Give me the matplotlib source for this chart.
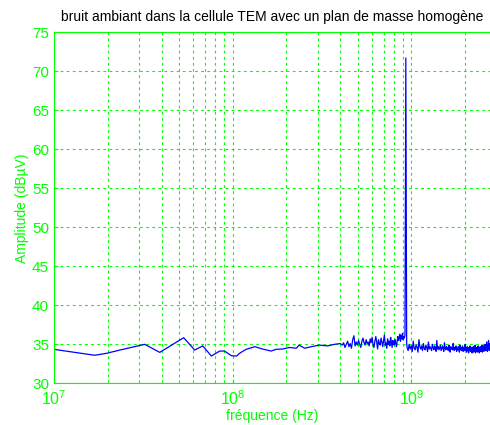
import numpy as np
import matplotlib.pyplot as plt
from matplotlib.ticker import LogLocator, NullFormatter

plt.rcParams['font.family'] = ['Liberation Sans', 'DejaVu Sans']

# smooth low-frequency part of the sweep
freqLow = [1.0e7, 1.69e7, 1.97e7, 2.34e7, 3.22e7, 3.91e7, 5.32e7, 6.13e7, 6.8e7, 7.6e7,
           8.46e7, 9.0e7, 9.84e7, 1.05e8, 1.1e8, 1.19e8, 1.33e8, 1.47e8, 1.64e8, 1.75e8,
           1.9e8, 2.08e8, 2.27e8, 2.35e8, 2.53e8, 2.75e8, 3.06e8, 3.4e8, 3.7e8, 4.0e8]
ampLow = [34.36, 33.6, 33.85, 34.27, 35.0, 33.97, 35.85, 34.27, 34.8, 33.5,
          34.14, 34.14, 33.54, 33.5, 33.9, 34.36, 34.7, 34.4, 34.14, 34.36,
          34.4, 34.6, 34.5, 34.9, 34.5, 34.7, 34.9, 34.8, 35.0, 35.1]

# noisy part before the peak (4.1e8 .. 9.2e8 Hz)
ampMid = [34.9, 35.2, 34.6, 35.0, 35.4, 34.7, 35.1, 34.5, 35.6, 36.1, 34.8, 35.3, 34.9, 35.5,
          35.0, 34.6, 35.4, 35.8, 35.2, 34.9, 35.6, 35.1, 35.3, 34.8, 35.7, 35.2, 35.9, 35.0,
          34.6, 35.4, 36.0, 35.3, 34.4, 35.6, 35.1, 34.9, 35.8, 35.3, 34.7, 35.5, 36.2, 34.9,
          35.2, 34.5, 35.7, 35.0, 35.4, 34.8, 35.9, 35.3, 34.6, 35.5, 35.1, 34.9, 35.6, 35.2,
          34.7, 35.4, 36.0, 35.5, 35.8, 36.3, 35.4, 36.1, 35.7, 36.4, 35.6, 36.0, 35.8, 36.2]

# the carrier peak
freqPeak = [9.25e8, 9.3e8, 9.35e8, 9.4e8]
ampPeak = [53.4, 71.7, 53.0, 35.2]

# noisy part after the peak (9.45e8 .. 2.75e9 Hz)
ampHigh = [34.6, 34.2, 35.0, 34.4, 34.8, 34.1, 35.4, 34.5, 34.3, 34.9, 34.6, 34.0, 35.6, 34.7,
           34.4, 34.8, 34.2, 35.1, 34.5, 34.3, 34.9, 34.6, 34.1, 35.3, 34.4, 34.7, 34.5, 34.2,
           35.0, 34.6, 34.3, 34.8, 34.5, 34.1, 35.5, 34.4, 34.7, 34.3, 34.6, 34.9, 34.2, 34.5,
           34.8, 34.4, 34.1, 35.2, 34.5, 34.3, 34.7, 34.4, 34.6, 34.2, 34.9, 34.5, 34.0, 34.7,
           34.4, 34.6, 34.3, 35.1, 34.5, 34.2, 34.6, 34.4, 34.8, 34.1, 34.5, 34.3, 34.7, 34.4,
           34.0, 34.9, 34.3, 34.6, 34.2, 34.5, 34.8, 34.1, 34.4, 34.6, 34.2, 35.0, 34.3, 34.5,
           34.0, 34.7, 34.3, 34.5, 33.9, 34.6, 34.2, 34.8, 34.1, 34.4, 34.6, 33.9, 34.5, 34.2,
           34.7, 34.0, 34.4, 34.3, 34.9, 33.9, 34.5, 34.1, 34.6, 34.3, 34.0, 34.8, 34.2, 34.5,
           33.9, 34.4, 34.7, 34.1, 34.6, 34.2, 34.9, 34.0, 34.5, 34.3, 34.8, 34.1, 34.6, 34.4,
           35.0, 34.2, 34.7, 34.3, 35.3, 34.5, 34.1, 34.9, 34.4, 35.5, 34.6, 34.2, 35.1, 34.5]

freqMid = np.linspace(4.1e8, 9.2e8, len(ampMid))
freqHigh = np.linspace(9.45e8, 2.75e9, len(ampHigh))

freq = np.concatenate([freqLow, freqMid, freqPeak, freqHigh])
amp = np.concatenate([ampLow, ampMid, ampPeak, ampHigh])

green = '#00ff00'

fig = plt.figure(figsize=(4.9, 4.25), dpi=100)
ax = fig.add_axes([0.110, 0.098, 0.89, 0.826])

ax.semilogx(freq, amp, color='#0000ff', linewidth=0.9)

ax.set_xlim(1e7, 2.75e9)
ax.set_ylim(30, 75)
ax.set_yticks(np.arange(30, 76, 5))
ax.xaxis.set_major_locator(LogLocator(base=10))
ax.xaxis.set_minor_locator(LogLocator(base=10, subs=np.arange(2, 10)))
ax.xaxis.set_minor_formatter(NullFormatter())

ax.grid(True, which='both', axis='x', color=green, linestyle=(0, (2.5, 3)), linewidth=0.8)
ax.grid(True, which='major', axis='y', color=green, linestyle=(0, (2.5, 3)), linewidth=0.8)

for s in ax.spines.values():
    s.set_color(green)
ax.spines['right'].set_visible(False)
ax.tick_params(which='both', direction='in', colors=green, labelsize=11, length=3)
ax.tick_params(which='minor', length=2)
ax.tick_params(axis='x', labelsize=11.5, pad=4)

ax.set_xlabel('fréquence (Hz)', color=green, fontsize=10, labelpad=1)
ax.set_ylabel('Amplitude (dBµV)', color=green, fontsize=10, labelpad=2)
ax.set_title('bruit ambiant dans la cellule TEM avec un plan de masse homogène',
             color='black', fontsize=10, pad=8)

fig.savefig('out.png', dpi=100)
